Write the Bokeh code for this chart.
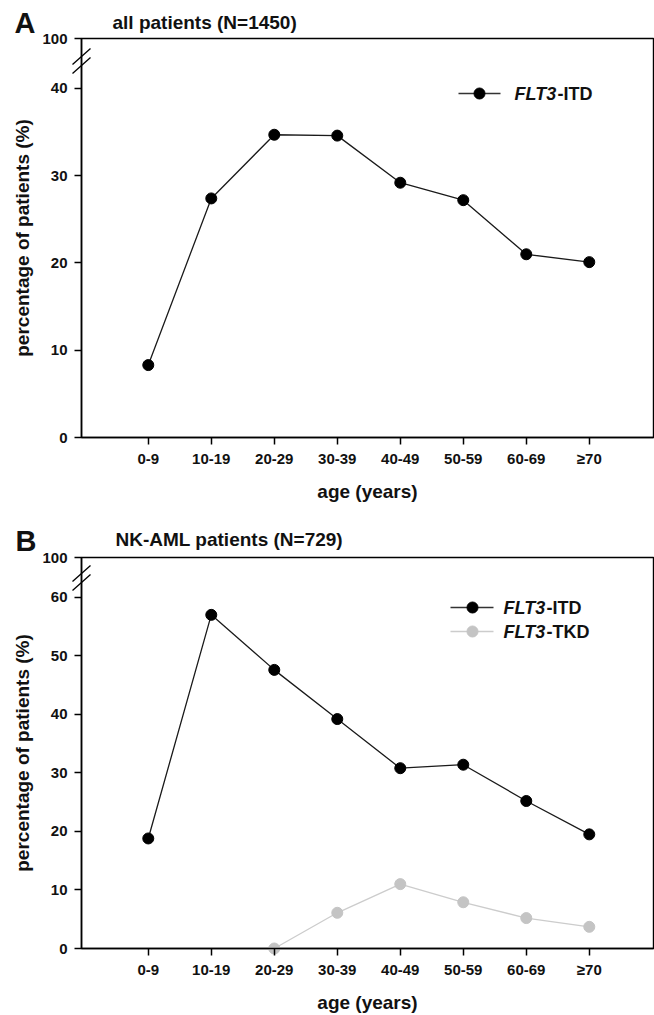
from bokeh.plotting import figure
from bokeh.models import FixedTicker, Label, Range1d
from bokeh.layouts import column
from bokeh.embed import file_html
from bokeh.resources import INLINE

# ---------------- data ----------------
age_groups = ["0-9", "10-19", "20-29", "30-39", "40-49", "50-59", "60-69", "\u226570"]
itd_all = [8.3, 27.4, 34.7, 34.6, 29.2, 27.2, 21.0, 20.1]
itd_nk = [18.8, 57.0, 47.6, 39.2, 30.8, 31.4, 25.2, 19.5]
tkd_nk_groups = ["20-29", "30-39", "40-49", "50-59", "60-69", "\u226570"]
tkd_nk = [0.0, 6.1, 11.0, 7.9, 5.2, 3.7]
yticks_a = [0, 10, 20, 30, 40]
yticks_b = [0, 10, 20, 30, 40, 50, 60]
break_label = "100"

FONT = "Liberation Sans"
WIDTH = 654
X0, X1 = -0.06, 9.02          # axis box in x (data units)
FRAME_LEFT_PAGE = 81           # page x of the left spine
PX_PER_X = 63.0


def px2x(page_x):
    return X0 + (page_x - FRAME_LEFT_PAGE) / PX_PER_X


def make_panel(height, page_top, box_top_page, box_bottom_page, ytop, yticks,
               title, title_x, title_y, letter, letter_x, letter_y):
    ppu = (box_bottom_page - box_top_page) / ytop

    def px2y(page_y):
        return ytop - (page_y - box_top_page) / ppu

    p = figure(width=WIDTH, height=height, output_backend="svg", toolbar_location=None,
               x_range=Range1d(px2x(0), px2x(WIDTH)),
               y_range=Range1d(px2y(page_top + height), px2y(page_top)),
               min_border_left=0, min_border_right=0,
               min_border_top=0, min_border_bottom=0)
    p.background_fill_color = "white"
    p.border_fill_color = "white"
    p.grid.visible = False
    p.outline_line_color = None

    # axes drawn at fixed positions on the box edges
    xpos = list(range(1, len(age_groups) + 1))
    p.xaxis.fixed_location = 0
    p.xaxis.bounds = (X0, X1)
    p.yaxis.fixed_location = X0
    p.yaxis.bounds = (0, ytop)
    p.xaxis.ticker = FixedTicker(ticks=xpos)
    p.xaxis.major_label_overrides = {i: g for i, g in zip(xpos, age_groups)}
    p.yaxis.ticker = FixedTicker(ticks=list(yticks) + [ytop])
    over = {t: str(t) for t in yticks}
    over[ytop] = break_label
    p.yaxis.major_label_overrides = over

    for ax in (p.xaxis[0], p.yaxis[0]):
        ax.axis_line_width = 1.5
        ax.axis_line_color = "black"
        ax.major_tick_line_width = 1.5
        ax.major_tick_in = 0
        ax.major_tick_out = 7
        ax.minor_tick_line_color = None
        ax.major_label_text_font = FONT
        ax.major_label_text_font_style = "bold"
        ax.major_label_text_font_size = "15px"
        ax.major_label_text_color = "#111111"
        ax.axis_label_text_font = FONT
        ax.axis_label_text_font_style = "bold"
        ax.axis_label_text_font_size = "19px"
        ax.axis_label_text_color = "#111111"
    p.xaxis.major_label_standoff = 5
    p.xaxis.axis_label_standoff = 11
    p.yaxis.major_label_standoff = 7
    p.yaxis.axis_label_standoff = 6
    p.xaxis.axis_label = "age (years)"
    p.yaxis.axis_label = "percentage of patients (%)"

    # box (top and right spines)
    p.quad(left=[X0], right=[X1], bottom=[0], top=[ytop], fill_color=None,
           line_color="black", line_width=1.5)

    p.add_layout(Label(x=px2x(title_x), y=px2y(title_y), text=title, text_font=FONT,
                       text_font_style="bold", text_font_size="19px", text_color="#111111",
                       text_baseline="middle", text_align="left"))
    p.add_layout(Label(x=px2x(letter_x), y=px2y(letter_y), text=letter, text_font=FONT,
                       text_font_style="bold", text_font_size="29px", text_color="#111111",
                       text_baseline="middle", text_align="left"))
    return p, px2y


def add_break(p, px2y, y_centers):
    for yc in y_centers:
        p.segment(x0=[px2x(72)], y0=[px2y(yc + 8)], x1=[px2x(90)], y1=[px2y(yc - 8)],
                  line_color="black", line_width=1.3)


def add_label(p, x, y, text, size, style="bold", color="#111111"):
    p.add_layout(Label(x=x, y=y, text=text, text_font=FONT, text_font_style=style,
                       text_font_size=size, text_color=color, text_baseline="middle",
                       text_align="left"))


def add_legend_row(p, px2y, lx0, lx1, mx, ty, tx, gene_suffix, color, mcolor):
    p.line([px2x(lx0), px2x(lx1)], [px2y(ty), px2y(ty)], line_color=color, line_width=1.3)
    p.scatter([px2x(mx)], [px2y(ty)], size=11, marker="circle", fill_color=mcolor,
              line_color=mcolor)
    add_label(p, px2x(tx), px2y(ty), "FLT3", "18px", style="bold italic")
    add_label(p, px2x(tx + 43), px2y(ty), gene_suffix, "18px")


xpos = list(range(1, len(age_groups) + 1))

# ---------------- panel A ----------------
pA, yA = make_panel(508, 0, 38, 437, 45.73, yticks_a,
                    "all patients (N=1450)", 112, 22, "A", 14, 22)
pA.line(xpos, itd_all, line_color="#1a1a1a", line_width=1.3)
pA.scatter(xpos, itd_all, size=11, marker="circle", fill_color="black", line_color="black")
add_break(pA, yA, [56, 65])
add_legend_row(pA, yA, 458, 500, 479, 93, 514, "-ITD", "#333333", "black")

# ---------------- panel B ----------------
pB, yB = make_panel(507, 508, 557, 948, 66.8, yticks_b,
                    "NK-AML patients (N=729)", 115, 539, "B", 15, 540)
tkd_x = [age_groups.index(g) + 1 for g in tkd_nk_groups]
pB.line(tkd_x, tkd_nk, line_color="#cccccc", line_width=1.3)
pB.scatter(tkd_x, tkd_nk, size=11, marker="circle", fill_color="#c4c4c4", line_color="#c4c4c4")
pB.line(xpos, itd_nk, line_color="#1a1a1a", line_width=1.3)
pB.scatter(xpos, itd_nk, size=11, marker="circle", fill_color="black", line_color="black")
add_break(pB, yB, [573, 582])
add_legend_row(pB, yB, 450, 493, 472, 607, 503, "-ITD", "#333333", "black")
add_legend_row(pB, yB, 450, 493, 472, 631, 503, "-TKD", "#cccccc", "#c4c4c4")

layout = column(pA, pB)
open("out.html", "w").write(file_html(layout, INLINE))
